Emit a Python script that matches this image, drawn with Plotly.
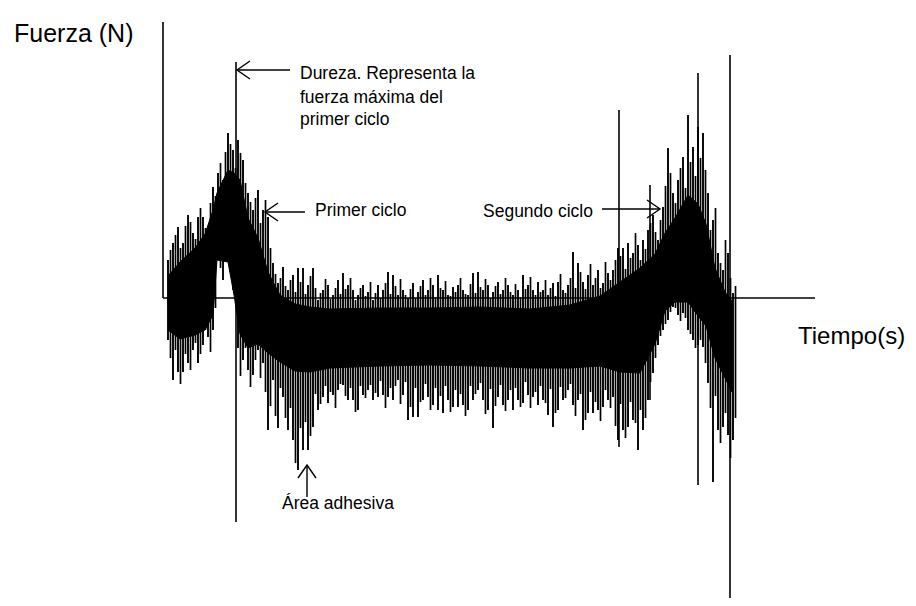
import plotly.graph_objects as go

# ---- data (time in s, force in N) ----
t_bins = [0.5, 1.0, 1.5, 2.0, 2.5, 3.0, 3.5, 4.0, 4.5, 5.0, 5.5, 6.0, 6.5, 7.0, 7.5, 8.0, 8.5, 9.0, 9.5, 10.0,
          10.5, 11.0, 11.5, 12.0, 12.5, 13.0, 13.5, 14.0, 14.5, 15.0, 15.5, 16.0, 16.5, 17.0, 17.5, 18.0, 18.5, 19.0, 19.5, 20.0,
          20.5, 21.0, 21.5, 22.0, 22.5, 23.0, 23.5, 24.0, 24.5, 25.0, 25.5, 26.0, 26.5, 27.0, 27.5, 28.0, 28.5, 29.0, 29.5, 30.0,
          30.5, 31.0, 31.5, 32.0, 32.5, 33.0, 33.5, 34.0, 34.5, 35.0, 35.5, 36.0, 36.5, 37.0, 37.5, 38.0, 38.5, 39.0, 39.5, 40.0,
          40.5, 41.0, 41.5, 42.0, 42.5, 43.0, 43.5, 44.0, 44.5, 45.0, 45.5, 46.0, 46.5, 47.0, 47.5, 48.0, 48.5, 49.0, 49.5, 50.0,
          50.5, 51.0, 51.5, 52.0, 52.5, 53.0, 53.5, 54.0, 54.5, 55.0, 55.5, 56.0, 56.5, 57.0]
f_max = [3.8, 5.5, 7.1, 5.5, 8.3, 6.5, 8.1, 8.1, 6.5, 11.1, 12.5, 11.8, 16.5, 14.8, 15.8, 13.8, 10.5, 8.8, 10.8, 8.8,
         8.1, 3.5, 1.5, 3.1, 0.8, 2.3, 3.0, 3.0, 1.3, 3.0, -0.2, 0.8, 1.3, 0.3, 1.8, 2.5, 1.3, 0.8, 0.3, 1.3,
         0.6, -0.2, 1.3, 0.8, 2.6, 2.3, 0.3, 0.8, 0.0, 1.5, 0.6, 1.8, 0.8, 1.3, 2.3, 0.8, 0.3, 1.1, 1.3, 0.8,
         0.3, 2.5, 2.6, 0.8, 1.3, 0.6, 1.6, 0.8, 1.3, 0.3, 0.8, 2.3, 1.3, 0.8, 1.6, 0.8, 0.3, 1.5, 1.6, 0.8,
         1.3, 4.6, 3.5, 1.6, 2.3, 1.3, 2.8, 1.5, 2.5, 2.8, 5.0, 5.0, 5.5, 4.5, 5.3, 5.8, 6.8, 8.3, 5.8, 9.1,
         15.0, 10.5, 11.8, 14.1, 18.3, 15.1, 17.1, 16.5, 10.5, 7.8, 4.5, 2.8, 4.5, 0.5]
f_min = [-4.2, -8.2, -7.4, -7.4, -6.5, -5.2, -6.5, -4.7, -3.9, -3.2, 4.3, 1.8, 4.0, 0.8, -5.0, -6.2, -7.2, -7.7, -5.2, -6.5,
         -13.2, -8.2, -13.0, -9.9, -13.2, -14.2, -17.2, -15.2, -15.2, -12.9, -11.2, -9.9, -10.5, -9.7, -9.2, -8.7, -10.2, -10.2, -11.2, -9.7,
         -9.2, -10.2, -9.9, -9.7, -9.9, -10.2, -8.2, -9.7, -12.2, -11.9, -11.9, -10.2, -9.9, -10.7, -11.2, -11.5, -10.2, -10.9, -10.9, -10.7,
         -11.2, -10.2, -9.2, -10.2, -11.2, -13.0, -9.9, -10.7, -10.2, -11.2, -10.2, -10.5, -9.7, -9.9, -10.7, -10.2, -11.7, -12.9, -11.2, -10.2,
         -9.2, -10.7, -10.2, -13.2, -11.5, -11.5, -11.2, -10.9, -10.2, -9.9, -14.2, -13.2, -12.9, -12.2, -15.2, -13.2, -10.2, -7.5, -4.7, -3.2,
         -2.2, -0.9, -1.7, -1.5, -3.2, -4.2, -4.7, -4.9, -8.5, -18.4, -13.2, -12.9, -13.7, -14.2]

# shorter strokes lying between the main ones
t_bins2 = [0.75, 1.25, 1.75, 2.25, 2.75, 3.25, 3.75, 4.25, 4.75, 5.25, 5.75, 6.25, 6.75, 7.25, 7.75, 8.25, 8.75, 9.25, 9.75, 10.25,
           10.75, 11.25, 11.75, 12.25, 12.75, 13.25, 13.75, 14.25, 14.75, 15.25, 15.75, 16.25, 16.75, 17.25, 17.75, 18.25, 18.75, 19.25, 19.75, 20.25,
           20.75, 21.25, 21.75, 22.25, 22.75, 23.25, 23.75, 24.25, 24.75, 25.25, 25.75, 26.25, 26.75, 27.25, 27.75, 28.25, 28.75, 29.25, 29.75, 30.25,
           30.75, 31.25, 31.75, 32.25, 32.75, 33.25, 33.75, 34.25, 34.75, 35.25, 35.75, 36.25, 36.75, 37.25, 37.75, 38.25, 38.75, 39.25, 39.75, 40.25,
           40.75, 41.25, 41.75, 42.25, 42.75, 43.25, 43.75, 44.25, 44.75, 45.25, 45.75, 46.25, 46.75, 47.25, 47.75, 48.25, 48.75, 49.25, 49.75, 50.25,
           50.75, 51.25, 51.75, 52.25, 52.75, 53.25, 53.75, 54.25, 54.75, 55.25, 55.75, 56.25, 56.75, 57.25]
f_max2 = [4.8, 6.3, 5.0, 7.2, 7.6, 5.9, 9.0, 7.0, 9.5, 10.2, 13.5, 14.6, 15.4, 13.0, 14.5, 11.5, 9.6, 10.0, 7.5, 9.8,
          5.0, 2.4, 2.0, 1.2, 1.8, 0.6, 1.6, 0.4, 2.2, 1.0, 0.5, 1.9, -0.1, 1.0, 0.4, 0.9, 2.0, -0.2, 1.0, 0.2,
          1.6, 0.5, 0.0, 1.5, 0.4, 1.2, 1.9, 0.3, 0.9, 0.0, 1.2, 0.3, 2.0, 0.1, 1.0, 1.7, 0.2, 0.6, 2.0, 0.4,
          1.4, 0.5, 1.1, 1.9, 0.0, 1.2, 0.4, 2.0, 0.6, 1.4, 0.1, 0.9, 2.1, 0.3, 0.6, 1.8, 1.0, 0.2, 2.4, 0.5,
          2.0, 1.0, 2.6, 0.9, 3.4, 2.0, 1.0, 3.6, 1.8, 3.8, 4.2, 2.9, 4.0, 6.5, 3.8, 4.9, 7.5, 6.6, 7.8, 11.2,
          12.5, 9.5, 13.0, 11.0, 13.6, 12.2, 14.0, 12.8, 6.8, 9.0, 3.5, 5.8, 2.0, 1.2]
f_min2 = [-6.0, -5.2, -8.6, -5.6, -7.2, -4.5, -5.6, -3.2, -5.4, -1.0, 3.0, 3.8, 2.6, 1.5, -7.8, -5.0, -8.9, -6.2, -8.0, -9.4,
          -10.8, -11.8, -9.0, -12.0, -11.0, -16.5, -13.0, -12.4, -13.8, -9.6, -10.6, -8.8, -9.4, -11.0, -8.6, -9.8, -9.0, -11.4, -8.8, -10.0,
          -8.7, -9.5, -8.3, -11.0, -9.0, -8.8, -10.6, -8.4, -10.9, -9.0, -10.4, -8.6, -11.2, -9.0, -9.8, -8.8, -11.4, -9.2, -9.6, -11.8,
          -8.8, -9.6, -8.5, -11.6, -9.1, -10.8, -8.7, -11.3, -9.2, -9.0, -10.9, -8.4, -11.0, -9.4, -8.8, -10.5, -9.1, -11.5, -8.9, -10.0,
          -8.6, -11.8, -9.6, -12.2, -9.4, -10.4, -12.3, -9.2, -11.0, -12.8, -10.6, -14.0, -10.4, -12.5, -11.2, -12.0, -8.4, -6.0, -3.8, -2.6,
          -1.4, -1.0, -2.3, -2.0, -3.6, -5.0, -4.2, -6.5, -11.0, -9.8, -14.5, -11.5, -16.0, -12.0]

# dense core of the trace (solid band)
t_core = [0.5, 1.7, 3.2, 4.2, 5.0, 5.4, 6.5, 7.1, 7.7, 8.5, 9.5, 10.5, 11.7, 13.2, 14.7, 16.7, 21.7, 26.7, 31.7, 36.7,
          40.7, 43.7, 45.7, 47.7, 49.2, 50.2, 51.2, 52.5, 53.5, 54.3, 55.2, 56.2, 56.9]
core_top = [2.2, 3.6, 5.0, 6.4, 8.8, 10.5, 12.8, 12.5, 11.8, 8.0, 6.0, 2.6, 0.3, -0.6, -0.9, -1.1, -1.0, -1.0, -0.9, -1.1,
            -0.7, 0.2, 1.6, 3.0, 4.4, 6.5, 8.0, 10.3, 9.4, 7.4, 3.0, 0.6, -0.3]
core_bot = [-3.2, -4.1, -3.7, -3.2, -1.7, 3.8, 3.6, 0.3, -3.6, -5.0, -4.6, -5.5, -6.4, -7.3, -7.4, -7.0, -6.8, -6.7, -6.8, -7.0,
            -7.0, -6.8, -7.4, -7.5, -4.6, -1.3, -0.4, -0.4, -1.8, -2.8, -6.0, -8.0, -9.4]

# isolated long spikes
spike_t = [7.3, 45.6, 48.7, 53.5, 56.7]
spike_top = [23.6, 18.8, 11.3, 22.5, 24.3]
spike_bot = [-22.4, -14.9, -10.2, -18.7, -30.0]

t_axis_end = 65.2
f_axis_top = 27.6

FONT = "Liberation Sans, Arial, sans-serif"

fig = go.Figure()

# core band
fig.add_trace(go.Scatter(
    x=t_core + t_core[::-1], y=core_top + core_bot[::-1],
    fill="toself", fillcolor="black", mode="lines",
    line=dict(color="black", width=1), hoverinfo="skip", showlegend=False))


def strokes(ts, his, los, width):
    xs, ys = [], []
    for t, hi, lo in zip(ts, his, los):
        xs += [t, t, None]
        ys += [hi, lo, None]
    fig.add_trace(go.Scatter(x=xs, y=ys, mode="lines", line=dict(color="black", width=width),
                             hoverinfo="skip", showlegend=False))


strokes(t_bins, f_max, f_min, 1.9)
strokes(t_bins2, f_max2, f_min2, 1.7)
strokes(spike_t, spike_top, spike_bot, 1.6)

# axes lines
fig.add_shape(type="line", x0=0, x1=0, y0=0, y1=f_axis_top, line=dict(color="black", width=1.6))
fig.add_shape(type="line", x0=0, x1=t_axis_end, y0=0, y1=0, line=dict(color="black", width=1.6))


def arrow(tail, tip, direction):
    (tx, ty), (hx, hy) = tail, tip
    fig.add_shape(type="line", x0=tx, y0=ty, x1=hx, y1=hy, line=dict(color="black", width=1.4))
    a, b = 1.3, 0.9
    if direction == "left":
        p1, p2 = (hx + a, hy + b), (hx + a, hy - b)
    elif direction == "right":
        p1, p2 = (hx - a, hy + b), (hx - a, hy - b)
    else:  # up
        p1, p2 = (hx - b, hy - a), (hx + b, hy - a)
    path = f"M {p1[0]},{p1[1]} L {hx},{hy} L {p2[0]},{p2[1]}"
    fig.add_shape(type="path", path=path, line=dict(color="black", width=1.4))


arrow((12.7, 22.8), (7.4, 22.8), "left")
arrow((14.2, 8.6), (10.2, 8.6), "left")
arrow((43.9, 8.9), (49.7, 8.9), "right")
arrow((14.4, -19.9), (14.4, -16.7), "up")

labels = [
    ("Fuerza (N)", -15.1, 26.5, 25),
    ("Tiempo(s)", 63.3, -3.7, 24),
    ("Dureza. Representa la", 13.5, 22.5, 17.5),
    ("fuerza máxima del", 13.5, 20.1, 17.5),
    ("primer ciclo", 13.5, 17.9, 17.5),
    ("Primer ciclo", 15.0, 8.8, 17.5),
    ("Segundo ciclo", 31.8, 8.7, 17.5),
    ("Área adhesiva", 11.7, -20.5, 17.5),
]
for text, x, y, size in labels:
    fig.add_annotation(x=x, y=y, text=text, showarrow=False, xanchor="left", yanchor="middle",
                       font=dict(family=FONT, size=size, color="black"))

fig.update_layout(
    width=916, height=606, margin=dict(l=0, r=0, t=0, b=0),
    paper_bgcolor="white", plot_bgcolor="white",
    xaxis=dict(range=[-16.3, 75.3], visible=False, fixedrange=True),
    yaxis=dict(range=[-30.8, 29.8], visible=False, fixedrange=True),
    showlegend=False,
)

fig.write_html("out.html")
